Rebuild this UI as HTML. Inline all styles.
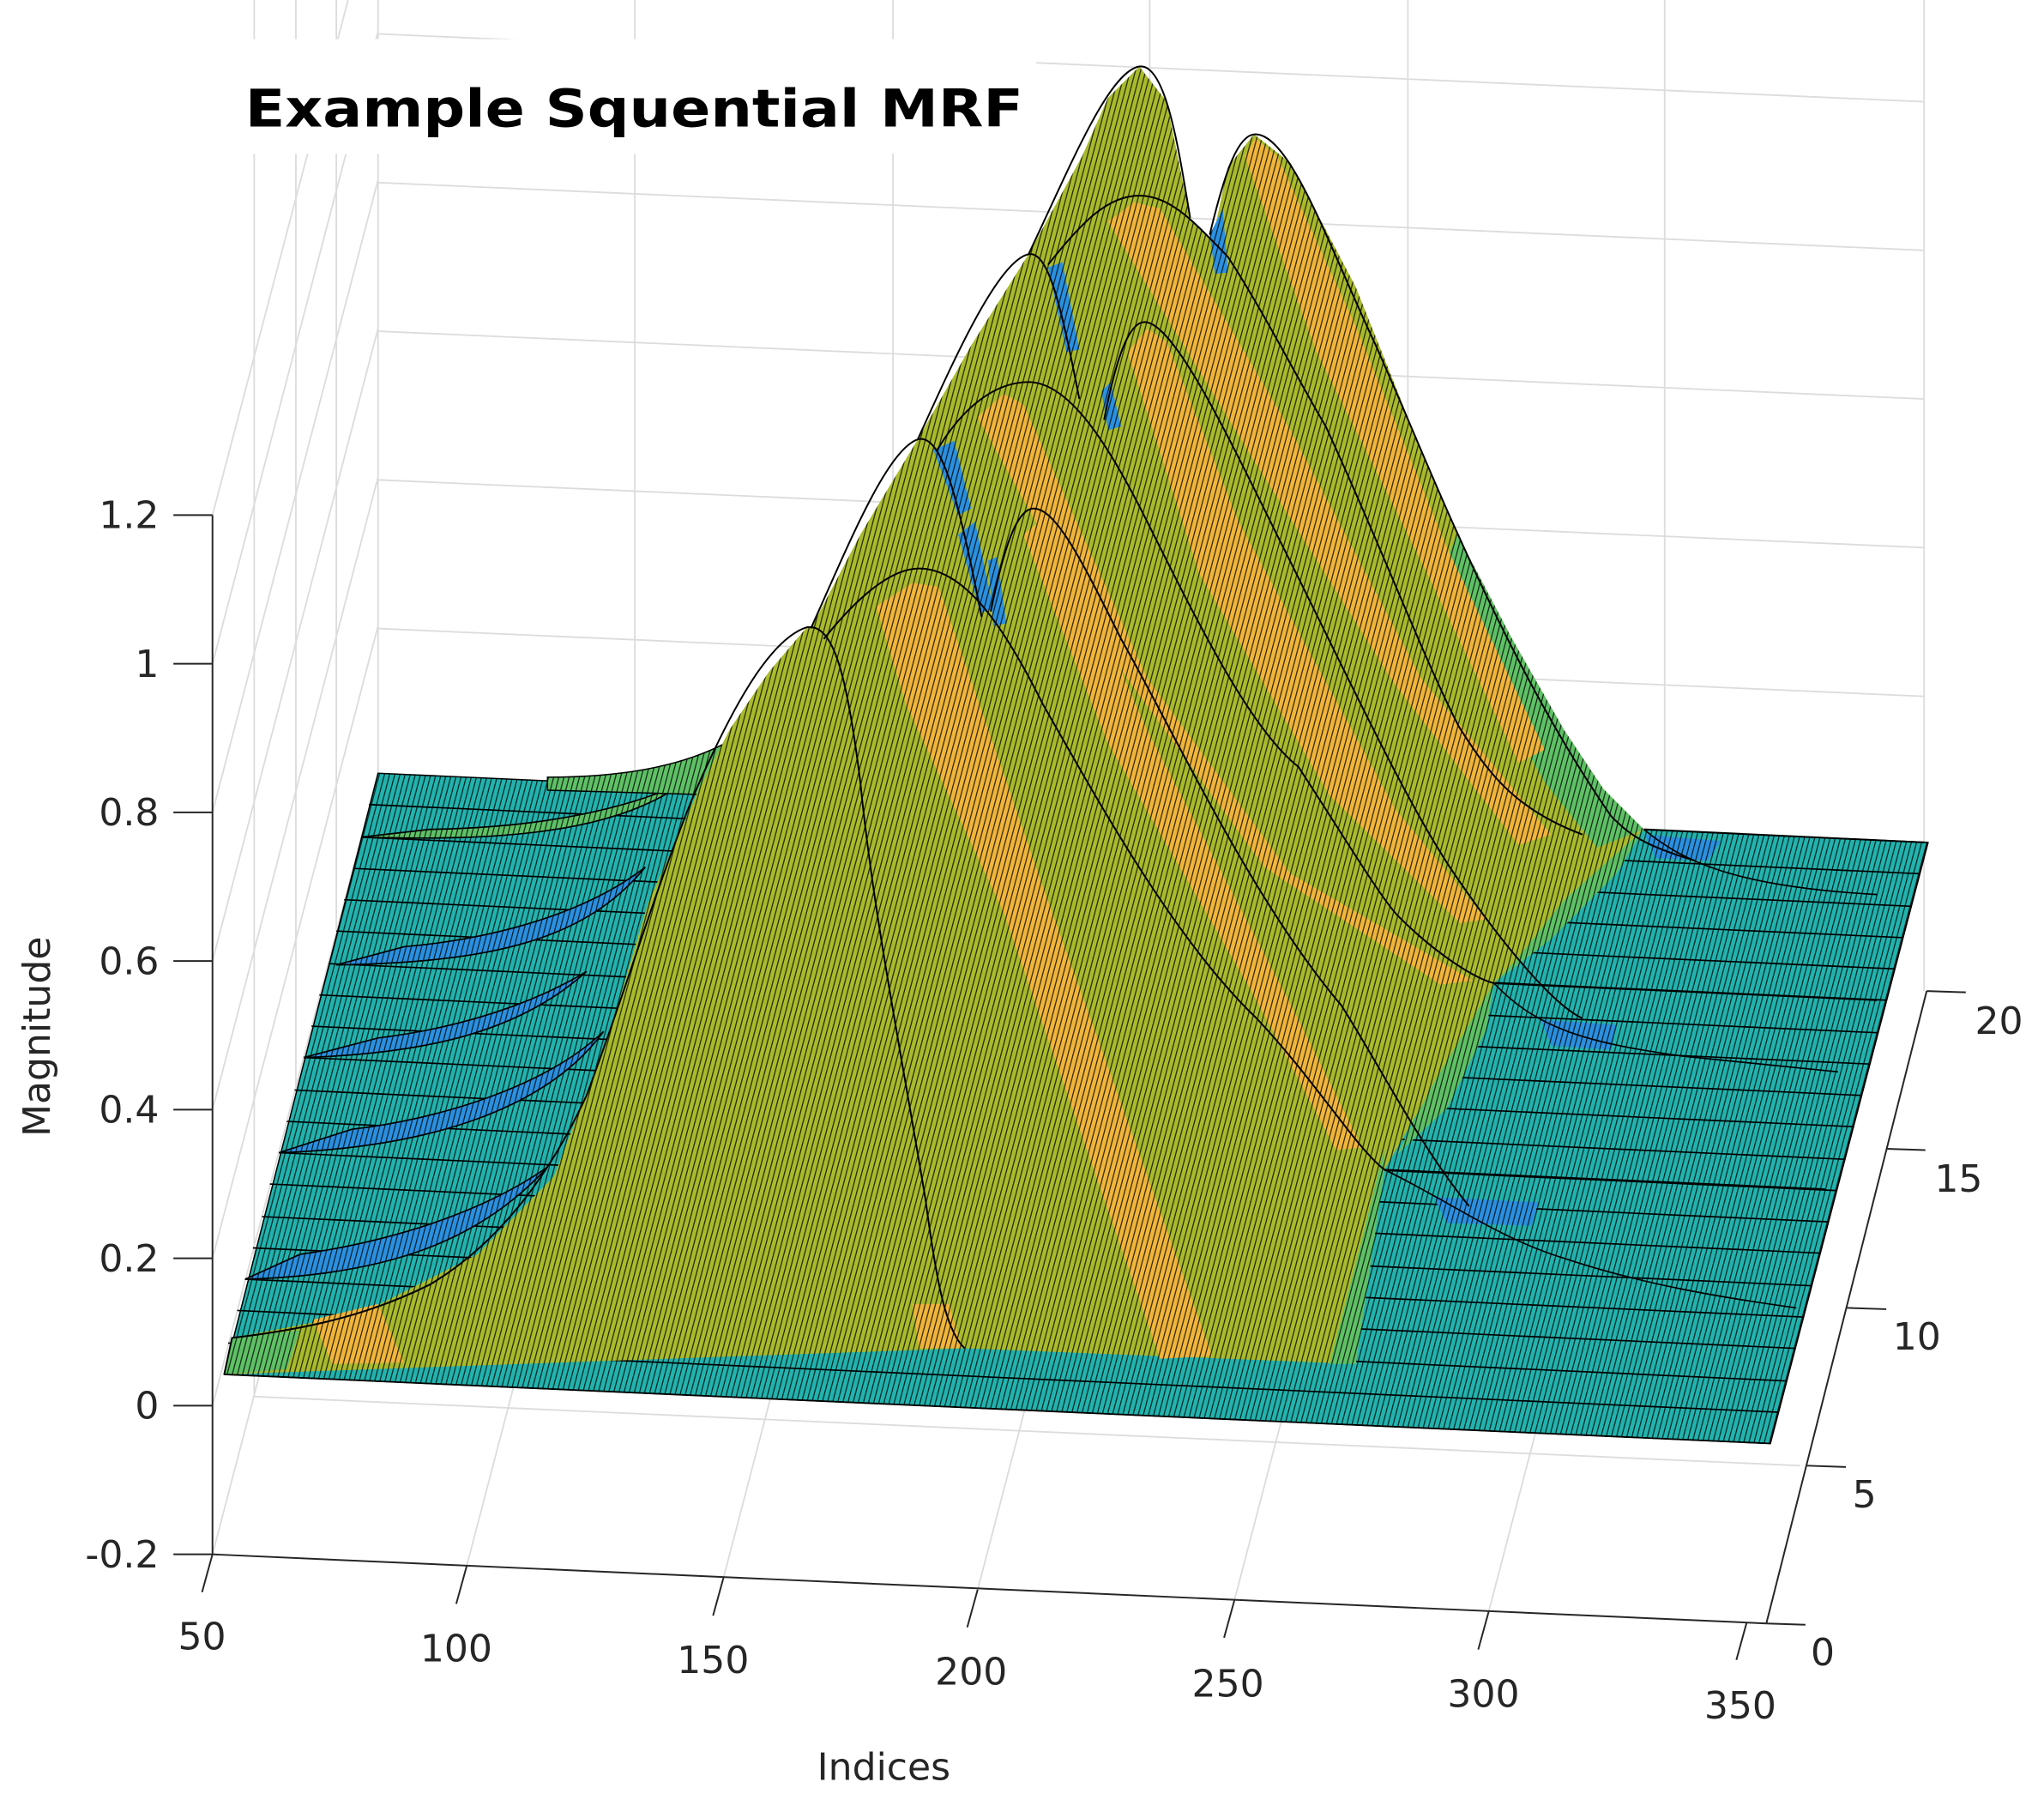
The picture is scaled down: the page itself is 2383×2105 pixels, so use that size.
<!DOCTYPE html>
<html><head><meta charset="utf-8"><style>
html,body{margin:0;padding:0;background:#fff;}
svg{display:block;}
text{font-family:"DejaVu Sans","Liberation Sans",sans-serif;fill:#262626;}
</style></head><body>
<svg width="2383" height="2105" viewBox="0 0 1568 1385" preserveAspectRatio="none" xmlns="http://www.w3.org/2000/svg">
<defs>
<pattern id="pt" patternUnits="userSpaceOnUse" width="3.95" height="50" patternTransform="skewX(-14.7)"><rect width="3.95" height="50" fill="#22b3ae"/><rect width="0.9" height="50" fill="#000" opacity="0.75"/></pattern>
<pattern id="po" patternUnits="userSpaceOnUse" width="3.95" height="50" patternTransform="skewX(-14.7)"><rect width="3.95" height="50" fill="#a9ba2c"/><rect width="0.9" height="50" fill="#000" opacity="0.75"/></pattern>
<pattern id="pr" patternUnits="userSpaceOnUse" width="3.95" height="50" patternTransform="skewX(-14.7)"><rect width="3.95" height="50" fill="#f0b53a"/><rect width="0.9" height="50" fill="#000" opacity="0.75"/></pattern>
<pattern id="pg" patternUnits="userSpaceOnUse" width="3.95" height="50" patternTransform="skewX(-14.7)"><rect width="3.95" height="50" fill="#5fc166"/><rect width="0.9" height="50" fill="#000" opacity="0.75"/></pattern>
<pattern id="pb" patternUnits="userSpaceOnUse" width="3.95" height="50" patternTransform="skewX(-14.7)"><rect width="3.95" height="50" fill="#2a90e0"/><rect width="0.9" height="50" fill="#000" opacity="0.75"/></pattern>
</defs>
<g stroke="#dcdcdc" stroke-width="1.2" fill="none">
<line x1="290" y1="26" x2="1476" y2="78"/>
<line x1="290" y1="140" x2="1476" y2="192"/>
<line x1="290" y1="254" x2="1476" y2="306"/>
<line x1="290" y1="368" x2="1476" y2="420"/>
<line x1="290" y1="482" x2="1476" y2="534"/>
<line x1="290" y1="596" x2="1476" y2="648"/>
<line x1="290" y1="0" x2="290" y2="707"/>
<line x1="487" y1="0" x2="487" y2="716"/>
<line x1="685" y1="0" x2="685" y2="725"/>
<line x1="882" y1="0" x2="882" y2="733"/>
<line x1="1080" y1="0" x2="1080" y2="742"/>
<line x1="1277" y1="0" x2="1277" y2="751"/>
<line x1="1476" y1="0" x2="1476" y2="760"/>
<line x1="195" y1="0" x2="195" y2="1071"/>
<line x1="227" y1="0" x2="227" y2="949"/>
<line x1="258" y1="0" x2="258" y2="828"/>
<line x1="163" y1="1192" x2="290" y2="707"/>
<line x1="163" y1="1078" x2="290" y2="593"/>
<line x1="163" y1="965" x2="290" y2="480"/>
<line x1="163" y1="851" x2="290" y2="366"/>
<line x1="163" y1="737" x2="290" y2="252"/>
<line x1="163" y1="623" x2="290" y2="138"/>
<line x1="163" y1="509" x2="290" y2="24"/>
<line x1="163" y1="395" x2="267" y2="0"/>
<line x1="195" y1="1071" x2="1381" y2="1124"/>
<line x1="358" y1="1201" x2="485" y2="716"/>
<line x1="555" y1="1210" x2="682" y2="725"/>
<line x1="750" y1="1219" x2="877" y2="734"/>
<line x1="947" y1="1227" x2="1074" y2="742"/>
<line x1="1142" y1="1236" x2="1269" y2="751"/>
</g>
<rect x="180" y="30" width="615" height="88" fill="#fff"/>
<text x="188" y="97" font-size="40" font-weight="bold" style="fill:#000" textLength="597" lengthAdjust="spacingAndGlyphs">Example Squential MRF</text>

<polygon points="172,1054 1358,1107 1479,646 290,593" fill="url(#pt)" stroke="#000" stroke-width="1"/>
<g stroke="#000" stroke-width="1.1">
<line x1="175" y1="1030" x2="1364" y2="1083"/>
<line x1="182" y1="1005" x2="1370" y2="1059"/>
<line x1="188" y1="981" x2="1377" y2="1034"/>
<line x1="194" y1="957" x2="1383" y2="1010"/>
<line x1="201" y1="933" x2="1389" y2="986"/>
<line x1="207" y1="908" x2="1396" y2="961"/>
<line x1="214" y1="884" x2="1402" y2="937"/>
<line x1="220" y1="860" x2="1408" y2="913"/>
<line x1="226" y1="836" x2="1415" y2="889"/>
<line x1="233" y1="811" x2="1421" y2="864"/>
<line x1="239" y1="787" x2="1427" y2="840"/>
<line x1="245" y1="763" x2="1434" y2="816"/>
<line x1="252" y1="739" x2="1440" y2="792"/>
<line x1="258" y1="714" x2="1447" y2="767"/>
<line x1="264" y1="690" x2="1453" y2="743"/>
<line x1="271" y1="666" x2="1459" y2="719"/>
<line x1="277" y1="642" x2="1466" y2="695"/>
<line x1="283" y1="617" x2="1472" y2="670"/>
</g>
<!-- left crescents -->
<g stroke="#000" stroke-width="1.1" fill="url(#pb)">
<path d="M188,981 C300,978 370,950 420,895 C370,930 300,952 230,962Z"/>
<path d="M214,884 C330,880 420,850 463,791 C420,832 340,858 270,866Z"/>
<path d="M233,811 C330,808 400,790 450,745 C400,775 340,790 290,796Z"/>
<path d="M258,740 C380,738 450,720 495,665 C450,700 380,720 310,726Z"/>
<path d="M277,642 C380,645 470,640 525,600 C470,625 400,635 330,636Z" fill="url(#pg)"/>
</g>
<path fill="url(#pb)" d="M1182,782 L1240,786 L1236,805 L1190,802Z"/>
<path fill="url(#pb)" d="M1100,918 L1180,922 L1175,940 L1110,938Z"/>
<path fill="url(#pb)" d="M1262,640 L1320,645 L1310,660 L1270,658Z"/>
<g fill="none" stroke="#000" stroke-width="1.1">
<path d="M1062,897 C1110,920 1150,950 1200,965 C1260,985 1320,995 1378,1003"/>
<path d="M1146,754 C1180,790 1220,800 1291,810 L1410,822"/>
<path d="M1261,636 C1290,660 1330,680 1440,686"/>
</g>
<path fill="url(#pg)" stroke="#000" stroke-width="1" d="M420,596 C470,596 520,590 560,568 L562,610 L420,606Z"/>
<!-- hill -->
<polygon fill="url(#po)" points="172,1054 178,1026 278,1007 366,962 425,902 467,794 497,693 534,610 560,559 590,515 619,481 622,482 660,410 704,337 745,265 789,195 830,120 850,75 874,51 895,78 913,167 930,184 942,128 962,103 990,125 1040,220 1080,320 1118,410 1160,490 1200,560 1230,605 1261,636 1146,754 1062,897 1040,1046 740,1034"/>
<g fill="url(#pg)">
<polygon points="172,1054 178,1026 230,1020 220,1050"/>
<polygon points="1118,410 1160,490 1200,560 1230,605 1261,636 1225,650 1185,600 1140,520 1100,450"/>
<polygon points="1062,880 1062,897 1040,1046 1020,1046 1045,950"/>
<polygon points="1146,754 1100,830 1072,885 1110,850 1140,790"/>
<polygon points="1261,636 1200,690 1160,740 1146,754 1190,720 1240,670"/>
</g>
<g fill="url(#pr)">
<polygon points="672,465 700,447 720,450 800,680 930,1040 890,1042 770,700 695,540"/>
<polygon points="785,410 800,398 815,412 880,560 990,770 1045,880 1025,882 960,760 850,570"/>
<polygon points="750,320 770,302 785,310 880,520 990,670 1130,752 1105,755 970,665 850,500"/>
<polygon points="865,270 880,252 895,262 950,400 1070,620 1140,705 1120,708 1020,610 920,440"/>
<polygon points="850,170 870,155 890,160 990,330 1090,520 1190,640 1165,648 1070,525 960,350"/>
<polygon points="955,120 963,106 980,120 1040,250 1110,420 1185,575 1165,585 1090,430 1010,270"/>
<polygon points="240,1012 290,1000 310,1045 255,1046"/>
<polygon points="700,1000 728,1000 738,1034 705,1034"/>
</g>
<g fill="url(#pb)">
<polygon points="735,410 748,400 762,467 752,470"/>
<polygon points="716,345 732,338 745,390 735,395"/>
<polygon points="804,205 815,201 828,268 818,270"/>
<polygon points="845,300 852,293 860,327 850,330"/>
<polygon points="928,180 938,160 942,209 932,210"/>
<polygon points="758,430 765,427 772,478 762,480"/>
</g>
<g fill="none" stroke="#000" stroke-width="1.3">
<path d="M172,1054 L178,1026 C230,1020 280,1010 330,985 C380,955 420,905 450,840 C480,760 500,690 530,615 C560,545 590,490 619,481 C640,478 650,520 660,600 C670,700 690,800 710,920 C718,980 725,1020 740,1034"/>
<path d="M622,482 C650,420 680,345 704,337 C722,332 735,380 753,473"/>
<path d="M704,337 C730,280 765,200 789,195 C805,192 815,240 828,306"/>
<path d="M789,195 C820,130 850,55 874,51 C895,48 905,120 913,167"/>
<path d="M632,490 C660,455 685,436 705,436 C740,436 770,480 800,540 C840,610 900,720 964,781 C1010,830 1040,880 1062,897"/>
<path d="M760,469 C770,420 780,390 793,390 C810,390 830,430 860,490 C900,560 960,690 1029,771 C1060,820 1090,880 1127,925"/>
<path d="M719,345 C740,310 765,293 789,293 C820,293 850,340 880,400 C920,480 960,560 996,588 C1030,640 1060,690 1073,703 C1100,730 1130,750 1146,754"/>
<path d="M847,322 C855,280 865,247 878,247 C900,247 940,330 980,411 C1030,510 1080,620 1119,675 C1150,720 1190,770 1214,781"/>
<path d="M804,203 C830,170 850,150 874,150 C900,150 920,175 942,197 C970,240 995,290 1017,327 C1060,420 1090,500 1119,557 C1140,590 1160,620 1214,640"/>
<path d="M928,180 C940,130 950,103 963,103 C990,103 1020,190 1055,264 C1080,320 1100,370 1119,411 C1150,480 1190,560 1236,626 C1250,640 1260,648 1300,660"/>
<path d="M1062,897 L1400,912"/>
<path d="M1146,754 L1440,767"/>
<path d="M1261,636 L1476,646"/>
</g>
<path d="M172,1054 L1358,1107 L1479,646" fill="none" stroke="#000" stroke-width="1.2"/>

<g stroke="#262626" stroke-width="1.3" fill="none">
<line x1="163" y1="395" x2="163" y2="1192"/>
<line x1="163" y1="1192" x2="1355" y2="1245"/>
<line x1="1355" y1="1245" x2="1478" y2="760"/>
<line x1="133" y1="395" x2="163" y2="395"/>
<line x1="133" y1="509" x2="163" y2="509"/>
<line x1="133" y1="623" x2="163" y2="623"/>
<line x1="133" y1="737" x2="163" y2="737"/>
<line x1="133" y1="851" x2="163" y2="851"/>
<line x1="133" y1="965" x2="163" y2="965"/>
<line x1="133" y1="1078" x2="163" y2="1078"/>
<line x1="133" y1="1192" x2="163" y2="1192"/>
<line x1="163" y1="1192" x2="155" y2="1221"/>
<line x1="358" y1="1201" x2="350" y2="1230"/>
<line x1="555" y1="1210" x2="547" y2="1239"/>
<line x1="750" y1="1219" x2="742" y2="1248"/>
<line x1="947" y1="1227" x2="939" y2="1256"/>
<line x1="1142" y1="1236" x2="1134" y2="1265"/>
<line x1="1340" y1="1244" x2="1332" y2="1273"/>
<line x1="1355" y1="1245" x2="1385" y2="1246"/>
<line x1="1386" y1="1124" x2="1416" y2="1125"/>
<line x1="1417" y1="1003" x2="1447" y2="1004"/>
<line x1="1447" y1="881" x2="1477" y2="882"/>
<line x1="1478" y1="760" x2="1508" y2="761"/>
</g>
<g font-size="29" text-anchor="end">
<text x="122" y="405">1.2</text>
<text x="122" y="519">1</text>
<text x="122" y="633">0.8</text>
<text x="122" y="747">0.6</text>
<text x="122" y="861">0.4</text>
<text x="122" y="975">0.2</text>
<text x="122" y="1088">0</text>
<text x="122" y="1202">-0.2</text>
</g>
<g font-size="29" text-anchor="middle">
<text x="155" y="1265">50</text>
<text x="350" y="1274">100</text>
<text x="547" y="1283">150</text>
<text x="745" y="1292">200</text>
<text x="942" y="1301">250</text>
<text x="1138" y="1309">300</text>
<text x="1335" y="1318">350</text>
<text x="678" y="1365">Indices</text>
</g>
<g font-size="29" text-anchor="start">
<text x="1389" y="1277">0</text>
<text x="1421" y="1156">5</text>
<text x="1452" y="1035">10</text>
<text x="1484" y="914">15</text>
<text x="1515" y="793">20</text>
</g>
<text x="0" y="0" font-size="29" text-anchor="middle" transform="translate(38,795) rotate(-90)">Magnitude</text>
</svg>
</body></html>
